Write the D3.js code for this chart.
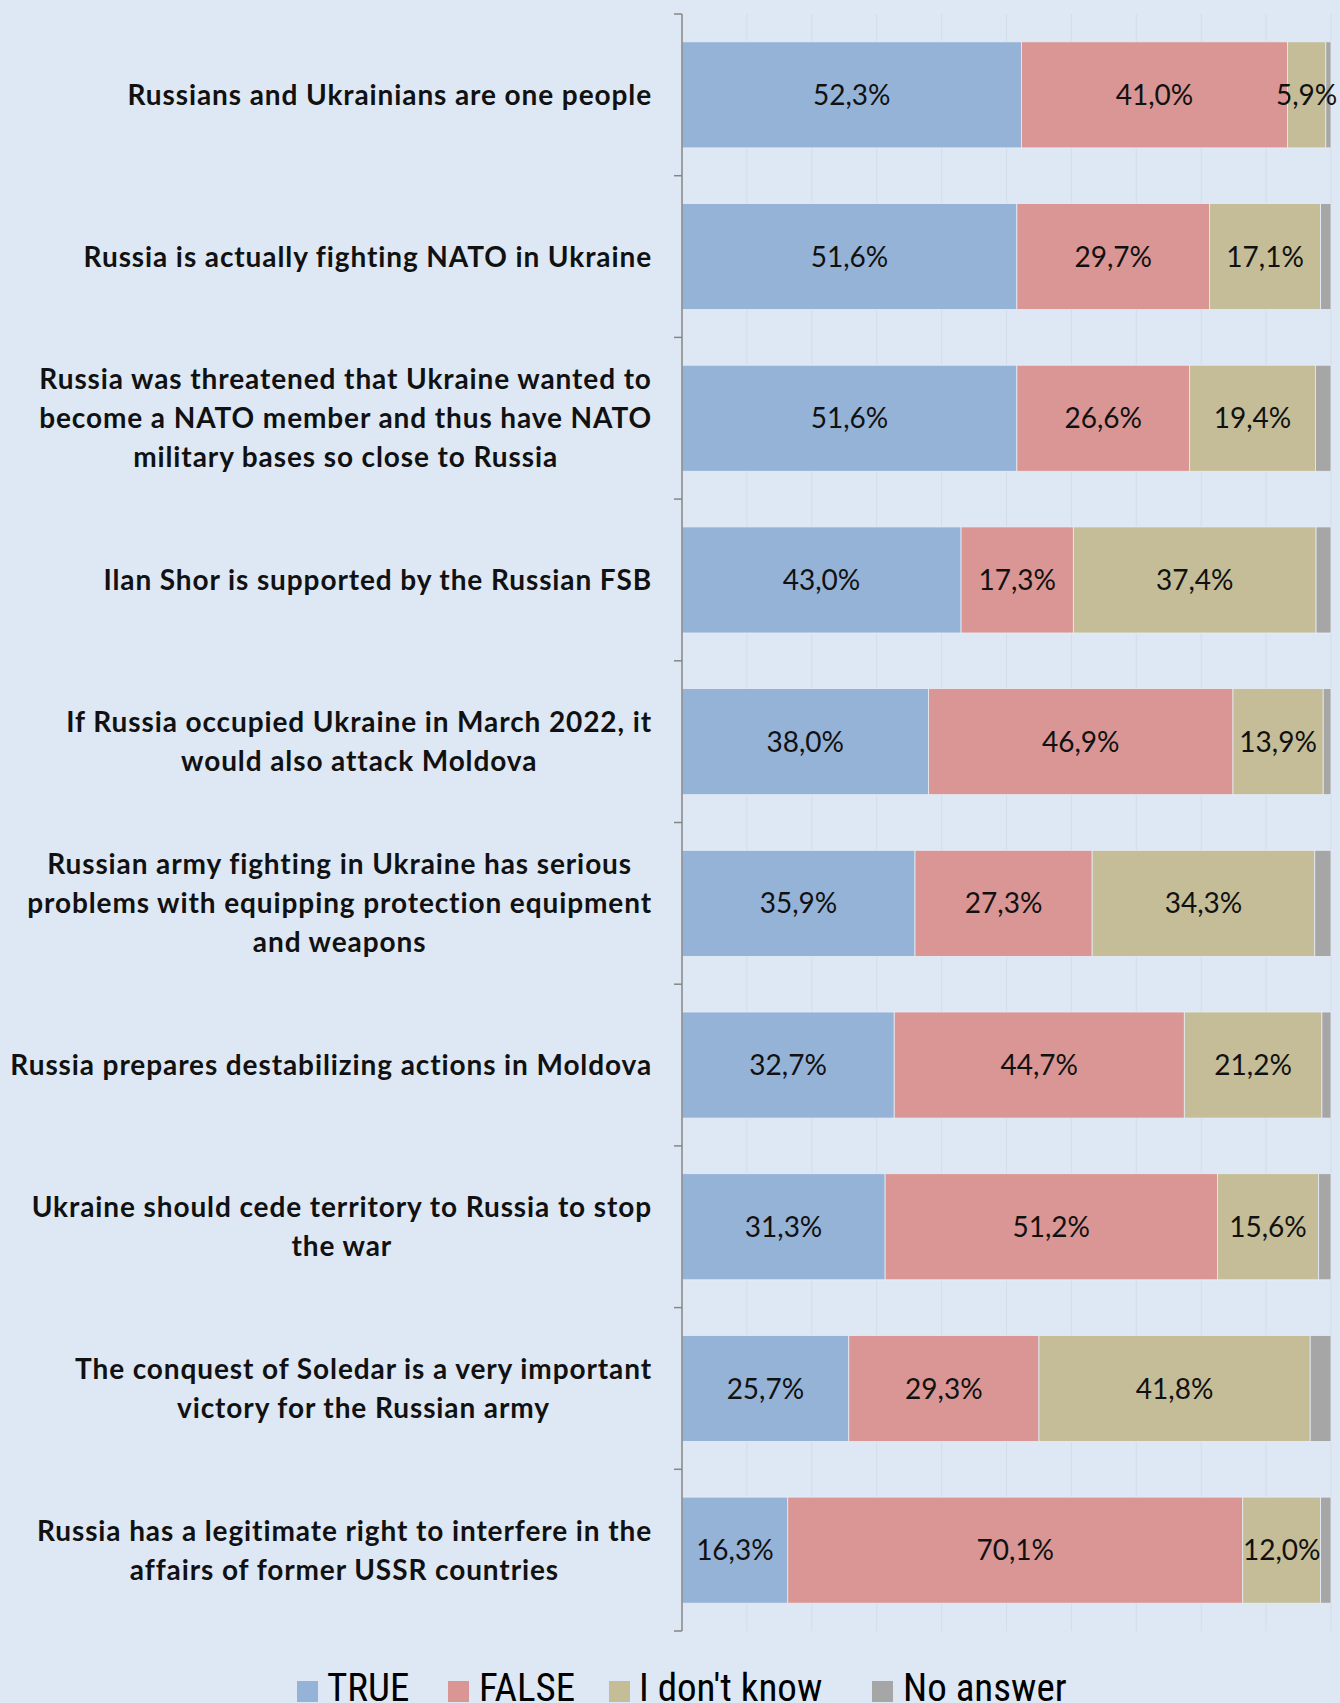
<!DOCTYPE html>
<html><head><meta charset="utf-8">
<script src="https://cdn.jsdelivr.net/npm/d3@7"></script>
<style>
html,body{margin:0;padding:0;background:#DEE8F4;}
svg{display:block;}
</style></head>
<body>
<svg id="chart" width="1340" height="1703"></svg>
<script>
const categories = [
  "Russians and Ukrainians are one people",
  "Russia is actually fighting NATO in Ukraine",
  "Russia was threatened that Ukraine wanted to\nbecome a NATO member and thus have NATO\nmilitary bases so close to Russia",
  "Ilan Shor is supported by the Russian FSB",
  "If Russia occupied Ukraine in March 2022, it\nwould also attack Moldova",
  "Russian army fighting in Ukraine has serious\nproblems with equipping protection equipment\nand weapons",
  "Russia prepares destabilizing actions in Moldova",
  "Ukraine should cede territory to Russia to stop\nthe war",
  "The conquest of Soledar is a very important\nvictory for the Russian army",
  "Russia has a legitimate right to interfere in the\naffairs of former USSR countries"
];
const seriesNames = ["TRUE", "FALSE", "I don't know", "No answer"];
const trueVals     = [52.3, 51.6, 51.6, 43.0, 38.0, 35.9, 32.7, 31.3, 25.7, 16.3];
const falseVals    = [41.0, 29.7, 26.6, 17.3, 46.9, 27.3, 44.7, 51.2, 29.3, 70.1];
const dontKnowVals = [5.9, 17.1, 19.4, 37.4, 13.9, 34.3, 21.2, 15.6, 41.8, 12.0];
const noAnswerVals = [0.8, 1.6, 2.4, 2.3, 1.2, 2.5, 1.4, 1.9, 3.2, 1.6];
const colors = ["#95B3D7", "#D99694", "#C4BD97", "#A6A6A6"];
const showLabel = [true, true, true, false];
const xTicks = [0,10,20,30,40,50,60,70,80,90,100];

(function(){
const svg = d3.select("#chart");
const pLeft = 682, pRight = 1331, pTop = 14, pBottom = 1631;

const rows = categories.map((c, i) => ({
  cat: c, vals: [trueVals[i], falseVals[i], dontKnowVals[i], noAnswerVals[i]]
}));
const stack = d3.stack().keys([0,1,2,3]).value((d,k) => d.vals[k]);
const stacked = stack(rows);

const x = d3.scaleLinear().domain([0, 100]).range([pLeft, pRight]);
const y = d3.scaleBand().domain(d3.range(categories.length)).range([pTop, pBottom]).paddingInner(0.344).paddingOuter(0.172);

// gridlines
svg.append("g").selectAll("line").data(xTicks.slice(1)).join("line")
  .attr("x1", d => x(d)).attr("x2", d => x(d))
  .attr("y1", pTop).attr("y2", pBottom)
  .attr("stroke", "#D3DDEA").attr("stroke-width", 1);

// bars
const gs = svg.append("g").selectAll("g").data(stacked).join("g")
  .attr("fill", (d, i) => colors[i]);
gs.selectAll("rect").data(d => d.map((v, j) => ({v, j}))).join("rect")
  .attr("x", d => x(d.v[0]))
  .attr("width", d => x(d.v[1]) - x(d.v[0]))
  .attr("y", d => y(d.j))
  .attr("height", y.bandwidth())
  .attr("stroke", "#E6EDF6").attr("stroke-width", 0.8);

// value labels
stacked.forEach((s, k) => {
  if (!showLabel[k]) return;
  svg.append("g").selectAll("text").data(s.map((v, j) => ({v, j}))).join("text")
    .attr("x", d => (x(d.v[0]) + x(d.v[1])) / 2)
    .attr("y", d => y(d.j) + y.bandwidth() / 2)
    .attr("dy", "0.36em")
    .attr("text-anchor", "middle")
    .attr("font-family", "Lato, 'Open Sans', sans-serif")
    .attr("font-size", 28)
    .attr("fill", "#111")
    .text(d => (d.v[1] - d.v[0]).toFixed(1).replace(".", ",") + "%");
});

// axis with ticks at band boundaries
svg.append("line").attr("x1", pLeft).attr("x2", pLeft).attr("y1", pTop).attr("y2", pBottom)
  .attr("stroke", "#868686").attr("stroke-width", 1.5);
svg.append("g").selectAll("line").data(d3.range(categories.length + 1)).join("line")
  .attr("x1", pLeft - 8).attr("x2", pLeft)
  .attr("y1", d => pTop + d * (pBottom - pTop) / categories.length)
  .attr("y2", d => pTop + d * (pBottom - pTop) / categories.length)
  .attr("stroke", "#868686").attr("stroke-width", 1.5);

// category labels
const labelRight = 652, lineH = 39;
const lab = svg.append("g").attr("font-family", "Lato, 'Open Sans', sans-serif")
  .attr("font-weight", "bold").attr("font-size", 28).attr("letter-spacing", "0.9px").attr("fill", "#111");
rows.forEach((r, i) => {
  const lines = r.cat.split("\n");
  const g = lab.append("g");
  const cy = y(i) + y.bandwidth() / 2;
  const texts = lines.map((ln, k) => g.append("text")
    .attr("y", cy + (k - (lines.length - 1) / 2) * lineH)
    .attr("dy", "0.36em")
    .attr("text-anchor", "middle")
    .text(ln));
  const maxW = d3.max(texts, t => t.node().getComputedTextLength());
  texts.forEach(t => t.attr("x", labelRight - maxW / 2));
});

// legend
const legendItems = [
  {name: seriesNames[0], sx: 297, tx: 327},
  {name: seriesNames[1], sx: 448, tx: 479},
  {name: seriesNames[2], sx: 609, tx: 639},
  {name: seriesNames[3], sx: 872, tx: 903}
];
const leg = svg.append("g");
legendItems.forEach((it, i) => {
  leg.append("rect").attr("x", it.sx).attr("y", 1681).attr("width", 21).attr("height", 21).attr("fill", colors[i]);
  leg.append("text").attr("x", it.tx).attr("y", 1701)
    .attr("font-family", "'Liberation Sans Narrow', 'Roboto Condensed', Lato, sans-serif")
    .attr("font-size", 39).attr("fill", "#000").text(it.name);
});
})();
</script>
</body></html>
